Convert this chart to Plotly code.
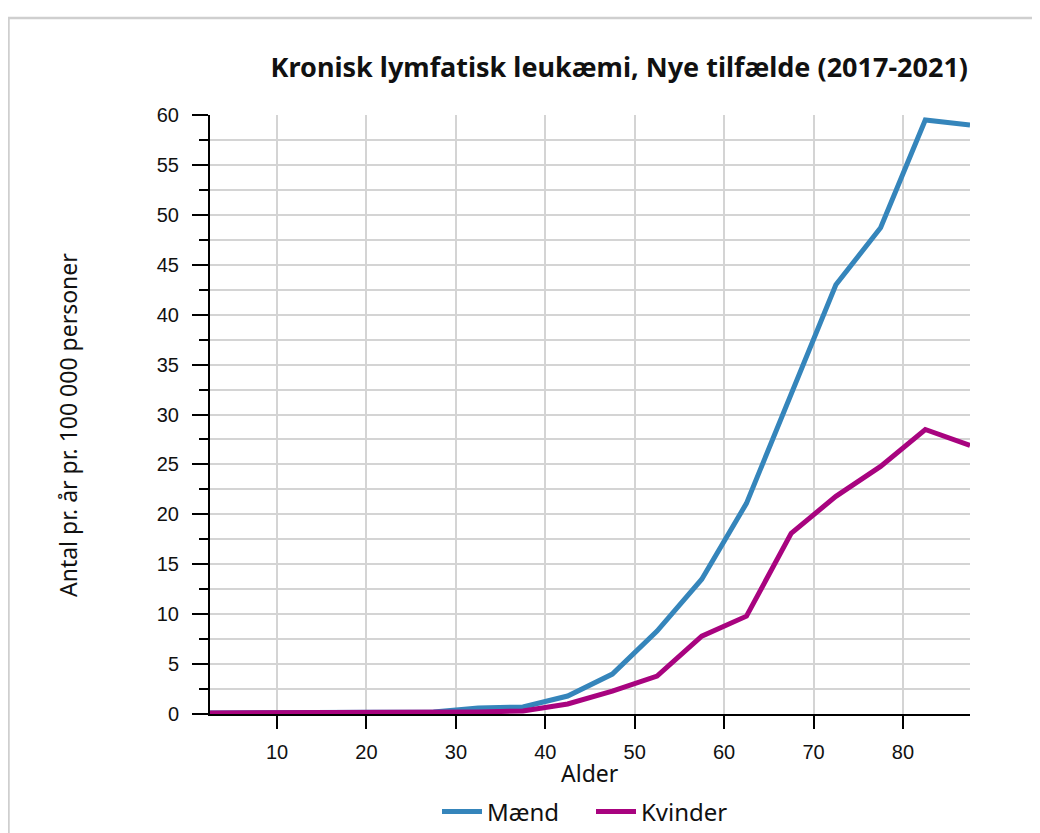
import plotly.graph_objects as go

ages = [2.5, 7.5, 12.5, 17.5, 22.5, 27.5, 32.5, 37.5, 42.5, 47.5, 52.5, 57.5, 62.5, 67.5, 72.5, 77.5, 82.5, 87.5]
maend = [0.1, 0.1, 0.1, 0.1, 0.1, 0.2, 0.6, 0.7, 1.8, 4.0, 8.3, 13.5, 21.1, 32.0, 43.0, 48.7, 59.5, 59.0]
kvinder = [0.1, 0.1, 0.1, 0.1, 0.1, 0.1, 0.2, 0.3, 1.0, 2.3, 3.8, 7.8, 9.8, 18.1, 21.8, 24.8, 28.5, 26.9]
series_names = ["Mænd", "Kvinder"]
x_ticks = [10, 20, 30, 40, 50, 60, 70, 80]
y_ticks = [0, 5, 10, 15, 20, 25, 30, 35, 40, 45, 50, 55, 60]

BLUE = "#3585bb"
MAGENTA = "#a8037f"
GRID = "#d4d4d4"
TEXT_FONT = "Noto Sans"

# page offset (body margin 8px)
OFF = 8
W, H = 1040 - OFF, 833 - OFF
L, R, T, B = 210 - OFF, 70, 115 - OFF, 119
pw, ph = W - L - R, H - T - B


def px_x(page_x):
    return (page_x - OFF - L) / pw


def px_y(page_y):
    return (H - B - (page_y - OFF)) / ph


fig = go.Figure()
fig.add_trace(go.Scatter(x=ages, y=maend, mode="lines", name=series_names[0],
                         line=dict(color=BLUE, width=5)))
fig.add_trace(go.Scatter(x=ages, y=kvinder, mode="lines", name=series_names[1],
                         line=dict(color=MAGENTA, width=5)))

# outer light frame
fig.add_shape(type="rect", xref="paper", yref="paper",
              x0=px_x(8.5), x1=1.5, y0=-0.6, y1=px_y(18),
              line=dict(color="#cfcfcf", width=2.5), fillcolor="rgba(0,0,0,0)", layer="below")

fig.add_annotation(text="Antal pr. år pr. 100 000 personer", textangle=-90,
                   xref="paper", yref="paper", x=px_x(68), y=px_y(425),
                   xanchor="center", yanchor="middle", showarrow=False,
                   font=dict(family=TEXT_FONT, size=23, color="#111"))
fig.add_annotation(text="Alder", xref="paper", yref="paper", x=px_x(590), y=px_y(773),
                   xanchor="center", yanchor="middle", showarrow=False,
                   font=dict(family=TEXT_FONT, size=23, color="#111"))

fig.update_layout(
    width=W, height=H,
    margin=dict(l=L, r=R, t=T, b=B, autoexpand=False),
    paper_bgcolor="white", plot_bgcolor="white",
    title=dict(text="<b>Kronisk lymfatisk leukæmi, Nye tilfælde (2017-2021)</b>",
               x=px_x(968), xref="paper", xanchor="right",
               y=1 - (68 - OFF) / H, yref="container", yanchor="middle",
               font=dict(family=TEXT_FONT, size=27, color="#111")),
    showlegend=True,
    legend=dict(orientation="h", x=px_x(591), xanchor="center", y=px_y(812), yanchor="middle",
                font=dict(family=TEXT_FONT, size=24, color="#111"), itemwidth=40,
                entrywidth=99, entrywidthmode="pixels",
                bgcolor="rgba(0,0,0,0)"),
    xaxis=dict(range=[2.5, 87.5], tickvals=x_ticks, ticks="outside", ticklen=13, tickwidth=2,
               tickcolor="black", showline=True, linecolor="black", linewidth=2,
               showgrid=True, gridcolor=GRID, gridwidth=2, zeroline=False,
               tickfont=dict(family="Liberation Sans", size=20, color="#111"),
               ticklabelstandoff=6),
    yaxis=dict(range=[0, 60], tickvals=y_ticks, ticks="outside", ticklen=16, tickwidth=2,
               tickcolor="black", showline=True, linecolor="black", linewidth=2,
               showgrid=True, gridcolor=GRID, gridwidth=2, zeroline=False,
               tickfont=dict(family="Liberation Sans", size=20, color="#111"),
               ticklabelstandoff=9,
               minor=dict(dtick=2.5, tick0=0, ticks="outside", ticklen=9, tickwidth=2,
                          tickcolor="black", showgrid=True, gridcolor=GRID, gridwidth=2)),
)

fig.write_html("out.html")
